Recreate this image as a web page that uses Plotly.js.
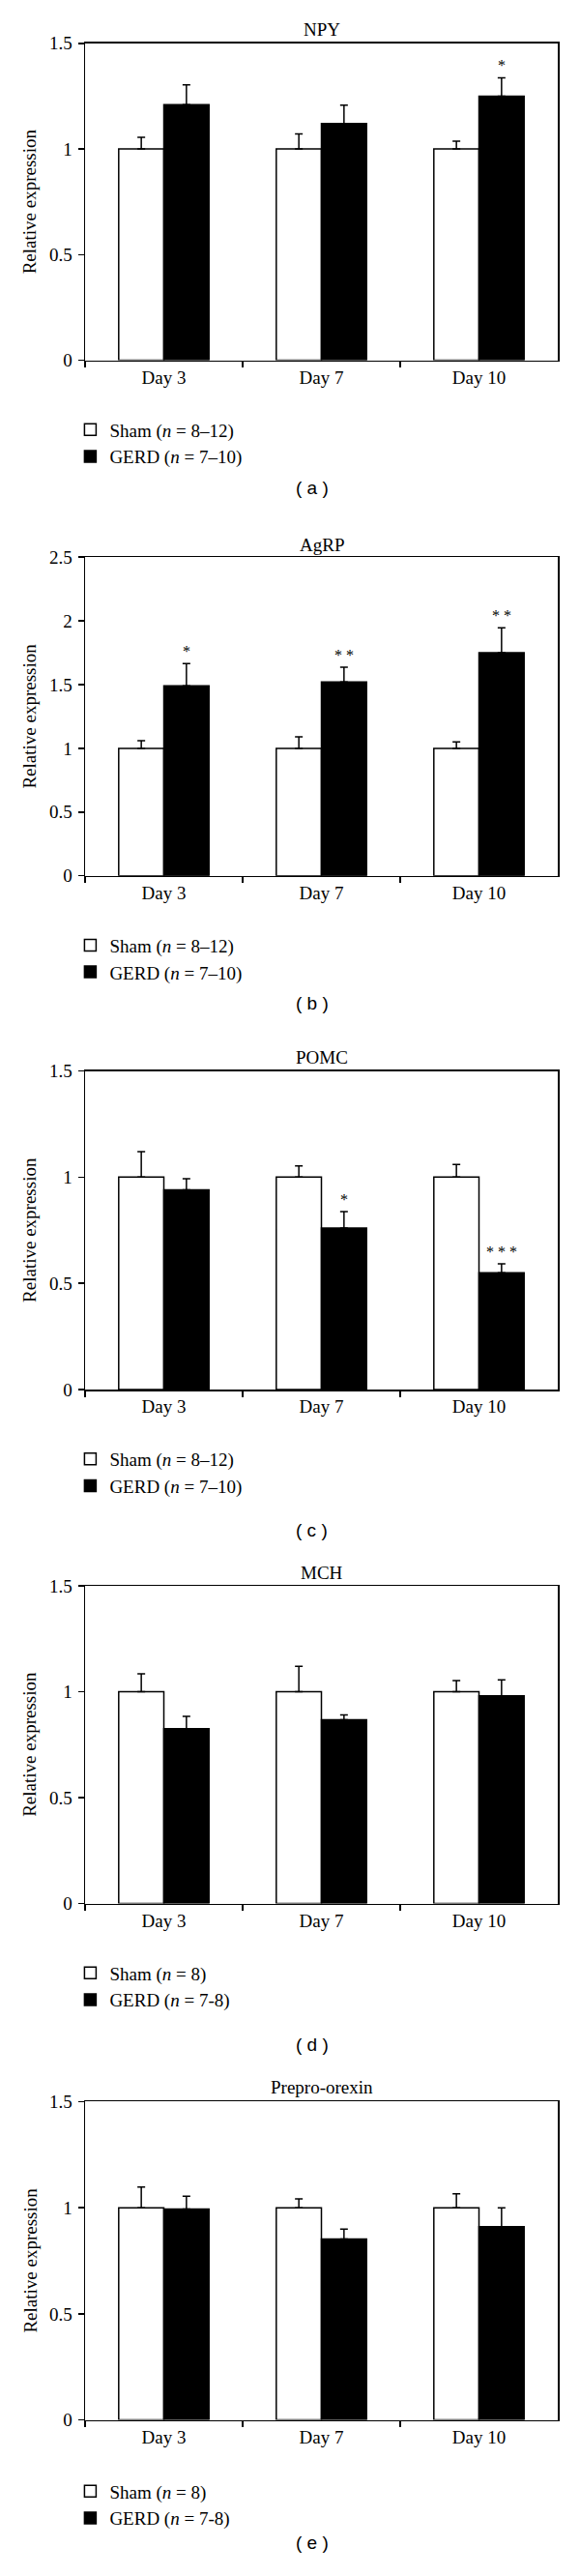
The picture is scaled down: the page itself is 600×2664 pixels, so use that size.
<!DOCTYPE html>
<html><head><meta charset="utf-8">
<script src="https://cdn.plot.ly/plotly-3.0.1.min.js"></script>
<style>html,body{margin:0;padding:0;background:#fff}</style>
</head><body><div id="chart" style="width:600px;height:2664px"></div>
<script>
// ---------- data ----------
const days = ['Day 3', 'Day 7', 'Day 10'];
const panelTitles = ['NPY', 'AgRP', 'POMC', 'MCH', 'Prepro-orexin'];
const panelLetters = ['( a )', '( b )', '( c )', '( d )', '( e )'];

const npySham = [1, 1, 1];
const npyShamErr = [0.055, 0.071, 0.037];
const npyGerd = [1.21, 1.12, 1.25];
const npyGerdErr = [0.093, 0.087, 0.087];
const npySig = ['', '', '*'];

const agrpSham = [1, 1, 1];
const agrpShamErr = [0.06, 0.09, 0.05];
const agrpGerd = [1.49, 1.52, 1.75];
const agrpGerdErr = [0.175, 0.117, 0.196];
const agrpSig = ['*', '* *', '* *'];

const pomcSham = [1, 1, 1];
const pomcShamErr = [0.12, 0.053, 0.06];
const pomcGerd = [0.94, 0.76, 0.55];
const pomcGerdErr = [0.052, 0.078, 0.042];
const pomcSig = ['', '*', '* * *'];

const mchSham = [1, 1, 1];
const mchShamErr = [0.085, 0.12, 0.052];
const mchGerd = [0.825, 0.868, 0.981];
const mchGerdErr = [0.058, 0.022, 0.075];
const mchSig = ['', '', ''];

const orexinSham = [1, 1, 1];
const orexinShamErr = [0.097, 0.042, 0.066];
const orexinGerd = [0.994, 0.853, 0.911];
const orexinGerdErr = [0.06, 0.046, 0.088];
const orexinSig = ['', '', ''];

const shamLabels = ['Sham (<i>n</i> = 8–12)', 'Sham (<i>n</i> = 8–12)', 'Sham (<i>n</i> = 8–12)', 'Sham (<i>n</i> = 8)', 'Sham (<i>n</i> = 8)'];
const gerdLabels = ['GERD (<i>n</i> = 7–10)', 'GERD (<i>n</i> = 7–10)', 'GERD (<i>n</i> = 7–10)', 'GERD (<i>n</i> = 7-8)', 'GERD (<i>n</i> = 7-8)'];
const yMax = [1.5, 2.5, 1.5, 1.5, 1.5];

const panels = [
  {sham: npySham, shamErr: npyShamErr, gerd: npyGerd, gerdErr: npyGerdErr, sig: npySig},
  {sham: agrpSham, shamErr: agrpShamErr, gerd: agrpGerd, gerdErr: agrpGerdErr, sig: agrpSig},
  {sham: pomcSham, shamErr: pomcShamErr, gerd: pomcGerd, gerdErr: pomcGerdErr, sig: pomcSig},
  {sham: mchSham, shamErr: mchShamErr, gerd: mchGerd, gerdErr: mchGerdErr, sig: mchSig},
  {sham: orexinSham, shamErr: orexinShamErr, gerd: orexinGerd, gerdErr: orexinGerdErr, sig: orexinSig}
];

// ---------- layout geometry (pixels) ----------
const W = 600, H = 2664;
const plotLeft = 88, plotRight = 577;
const plotTop = [44.8, 576.2, 1107.5, 1640, 2173.4];
const plotBottom = [372.6, 905.7, 1437.1, 1968.5, 2502.6];
const titleY = [30.3, 563.4, 1093.1, 1626, 2158.4];
const legendFirstY = [444.3, 977.4, 1508.8, 2040.2, 2576.2];
const letterY = [504.5, 1037.6, 1582, 2114.1, 2629.6];
const yTitleX = 30.6;
const letterX = 322.6;

const serif = 'Liberation Serif, Times New Roman, serif';
const sans = 'Liberation Sans, Arial, sans-serif';
const fs = 19;
const bargap = 0.427;

const py = p => 1 - p / H;
const traces = [];
const annotations = [];
const layout = {
  width: W, height: H,
  margin: {l: 0, r: 0, t: 0, b: 0},
  paper_bgcolor: 'white', plot_bgcolor: 'white',
  barmode: 'group', bargap: bargap, bargroupgap: 0,
  font: {family: serif, size: fs, color: 'black'},
  annotations: annotations,
  showlegend: true
};

panels.forEach((p, i) => {
  const n = i + 1;
  const xa = 'x' + (n === 1 ? '' : n), ya = 'y' + (n === 1 ? '' : n);
  const xKey = 'xaxis' + (n === 1 ? '' : n), yKey = 'yaxis' + (n === 1 ? '' : n);
  const lKey = 'legend' + (n === 1 ? '' : n);
  const zeros = p.shamErr.map(() => 0);

  traces.push({
    type: 'bar', x: days, y: p.sham, name: shamLabels[i], xaxis: xa, yaxis: ya, legend: lKey,
    marker: {color: 'white', line: {color: 'black', width: 1.5}},
    error_y: {type: 'data', symmetric: false, array: p.shamErr, arrayminus: zeros, color: 'black', thickness: 1.5, width: 4},
    hoverinfo: 'skip'
  });
  traces.push({
    type: 'bar', x: days, y: p.gerd, name: gerdLabels[i], xaxis: xa, yaxis: ya, legend: lKey,
    marker: {color: 'black', line: {color: 'black', width: 1.5}},
    error_y: {type: 'data', symmetric: false, array: p.gerdErr, arrayminus: zeros, color: 'black', thickness: 1.5, width: 4},
    hoverinfo: 'skip'
  });

  layout[xKey] = {
    domain: [plotLeft / W, plotRight / W], anchor: ya,
    type: 'category', categoryorder: 'array', categoryarray: days,
    tickson: 'boundaries', ticks: 'outside', ticklen: 6, tickwidth: 1.5, tickcolor: 'black',
    showline: true, linecolor: 'black', linewidth: 1.5, mirror: true,
    showgrid: false, zeroline: false, fixedrange: true,
    tickfont: {family: serif, size: fs, color: 'black'}
  };
  layout[yKey] = {
    domain: [py(plotBottom[i]), py(plotTop[i])], anchor: xa,
    range: [0, yMax[i]], dtick: 0.5, tick0: 0,
    ticks: 'outside', ticklen: 6, tickwidth: 1.5, tickcolor: 'black', ticklabelstandoff: 2,
    showline: true, linecolor: 'black', linewidth: 1.5, mirror: true,
    showgrid: false, zeroline: false, fixedrange: true,
    tickfont: {family: serif, size: fs, color: 'black'}
  };
  layout[lKey] = {
    x: 73.4 / W, xanchor: 'left',
    y: py(legendFirstY[i] - 18.85), yanchor: 'top',
    bgcolor: 'rgba(0,0,0,0)', borderwidth: 0, traceorder: 'normal',
    font: {family: serif, size: fs, color: 'black'}
  };

  // subplot title
  annotations.push({
    text: panelTitles[i], xref: xa + ' domain', x: 0.5, xanchor: 'center',
    yref: 'paper', y: py(titleY[i]), yanchor: 'middle', showarrow: false,
    font: {family: serif, size: fs, color: 'black'}
  });
  // y-axis title
  annotations.push({
    text: 'Relative expression', textangle: -90, xref: 'paper', x: yTitleX / W, xanchor: 'center',
    yref: ya + ' domain', y: 0.5, yanchor: 'middle', showarrow: false,
    font: {family: serif, size: fs, color: 'black'}
  });
  // panel letter
  annotations.push({
    text: panelLetters[i], xref: 'paper', x: letterX / W, xanchor: 'center',
    yref: 'paper', y: py(letterY[i]), yanchor: 'middle', showarrow: false,
    font: {family: sans, size: 19, color: 'black'}
  });
  // significance marks above GERD bars
  const off = (1 - bargap) / 4;
  p.sig.forEach((s, k) => {
    if (!s) return;
    annotations.push({
      text: s, xref: xa, x: k + off, xanchor: 'center',
      yref: ya, y: p.gerd[k] + p.gerdErr[k], yanchor: 'bottom', yshift: 2,
      showarrow: false, font: {family: serif, size: 16, color: 'black'}
    });
  });
});

Plotly.newPlot('chart', traces, layout, {displayModeBar: false, staticPlot: true});
</script>
</body></html>
